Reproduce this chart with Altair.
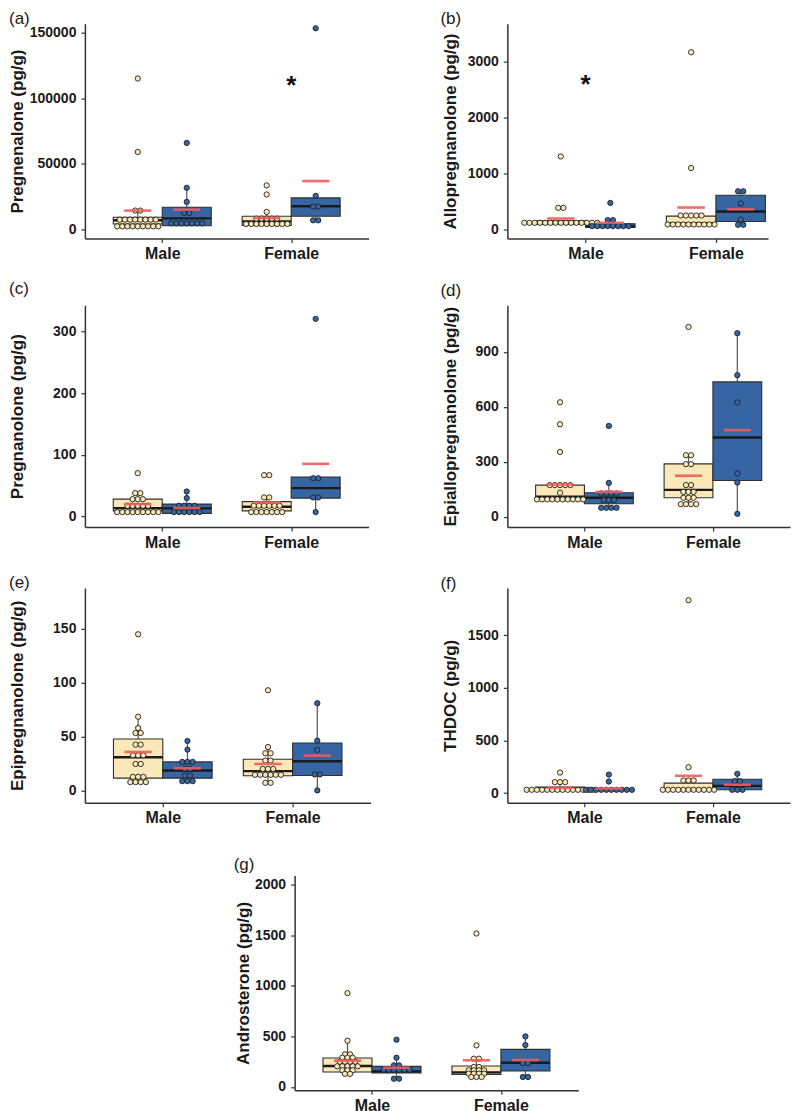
import altair as alt
import pandas as pd

SEXES = ["Male", "Female"]
GROUPS = ["Control", "Treated"]
ORDER = [("Male", "Control"), ("Male", "Treated"), ("Female", "Control"), ("Female", "Treated")]
CREAM = "#FBE8B8"
BLUE = "#3566A3"
MEAN_RED = "#EF5B5B"

# ---------------- (a) Pregnenalone ----------------
a_male_ctrl = [115000, 59000, 14300, 14300] + [7400] * 8 + [2300] * 9
a_male_trt = [65900, 31700, 20950, 12500, 12500] + [4600] * 7
a_fem_ctrl = [33500, 26600, 13300] + [8200] * 5 + [4100] * 9
a_fem_trt = [153300, 25550, 17400, 17400, 6900, 6900]
a_lo = [2300, 2800, 3000, 6900]
a_q1 = [4100, 2800, 3000, 10000]
a_med = [6900, 8400, 6100, 17600]
a_q3 = [9200, 16900, 10000, 24000]
a_hi = [14300, 31700, 13300, 25550]
a_mean = [14300, 15000, 8700, 36800]

# ---------------- (b) Allopregnanolone ----------------
b_male_ctrl = [1305, 390, 390] + [124] * 15
b_male_trt = [478, 171, 171] + [65] * 8
b_fem_ctrl = [3160, 1098] + [254] * 5 + [94] * 10
b_fem_trt = [685, 685, 467, 183, 89, 89]
b_lo = [95, 47, 94, 89]
b_q1 = [95, 47, 106, 148]
b_med = [120, 59, 118, 325]
b_q3 = [160, 106, 242, 614]
b_hi = [160, 171, 254, 685]
b_mean = [200, 124, 396, 366]

# ---------------- (c) Pregnanolone ----------------
c_male_ctrl = [70.3, 37.8, 37.8, 28, 28, 28] + [17.3] * 5 + [7] * 9
c_male_trt = [40.5, 29.7] + [17.3] * 4 + [7] * 6
c_fem_ctrl = [67, 67, 30.8, 30.8] + [17.3] * 6 + [7] * 7
c_fem_trt = [321, 62, 62, 30.8, 30.8, 7]
c_lo = [7, 4.9, 7, 7]
c_q1 = [9, 4.9, 9, 29.7]
c_med = [13.5, 13, 15.7, 46]
c_q3 = [28, 20, 24, 64]
c_hi = [37.8, 40.5, 30.8, 62]
c_mean = [20, 13.5, 22.7, 85.4]

# ---------------- (d) Epiallopregnanolone ----------------
d_male_ctrl = [625, 505, 354] + [173] * 5 + [131] + [95] * 10
d_male_trt = [496, 185] + [127] * 4 + [91] * 3 + [49] * 4
d_fem_ctrl = [1036, 336, 336, 287, 287, 173, 173, 136, 136, 136, 104, 104, 104, 69, 69, 69, 69]
d_fem_trt = [1002, 773, 624, 236, 187, 16]
d_lo = [95, 49, 69, 16]
d_q1 = [95, 71, 104, 198]
d_med = [109, 104, 147, 433]
d_q3 = [173, 131, 289, 736]
d_hi = [173, 185, 336, 1002]
d_mean = [176, 136, 224, 473]

# ---------------- (e) Epipregnanolone ----------------
e_male_ctrl = [145, 68.4, 57.9, 53.3, 53.3, 42.5, 42.5, 32.6, 32.6, 32.6, 24.6, 24.6,
               12.6, 12.6, 12.6, 7.7, 7.7, 7.7, 7.7]
e_male_trt = [45.9, 37.9, 26.5, 26.5, 26.5, 20, 20, 13.9, 13.9, 8.6, 8.6, 8.6]
e_fem_ctrl = [93, 40.3, 34.5, 34.5, 27.7, 27.7, 20, 20, 20] + [14.5] * 6 + [7.1, 7.1]
e_fem_trt = [81, 46.2, 37.6, 14.8, 14.8, 0]
e_lo = [7.7, 8.6, 7.1, 0]
e_q1 = [11.4, 11.4, 13.6, 13.9]
e_med = [30.8, 18.5, 17.9, 27.1]
e_q3 = [47.7, 26.5, 29, 44]
e_hi = [68.4, 45.9, 40.3, 81]
e_mean = [35.7, 20.6, 24.6, 32.3]

# ---------------- (f) THDOC ----------------
f_male_ctrl = [195, 104, 104, 104] + [31.5] * 14
f_male_trt = [176, 110] + [31.5] * 10
f_fem_ctrl = [1831, 246, 120, 120, 120] + [31.5] * 11
f_fem_trt = [183, 113, 113, 31.5, 31.5, 31.5]
f_lo = [25, 25, 25, 31.5]
f_q1 = [25, 25, 25, 31.5]
f_med = [31.5, 31, 31.5, 69]
f_q3 = [57, 41, 95, 132]
f_hi = [104, 41, 120, 183]
f_mean = [50, 44, 164, 79]

# ---------------- (g) Androsterone ----------------
g_male_ctrl = [929, 458, 323, 323, 290, 290, 290, 250, 250, 250, 250,
               205, 205, 205, 205, 205, 165, 165, 165, 130, 130]
g_male_trt = [468, 290, 214, 214] + [171] * 6 + [82, 82]
g_fem_ctrl = [1519, 412, 280, 280, 198, 198, 165, 165, 165, 165, 132, 132, 132, 132, 99, 99, 99]
g_fem_trt = [501, 415, 237, 237, 99, 99]
g_lo = [130, 82, 99, 99]
g_q1 = [148, 138, 125, 158]
g_med = [208, 155, 145, 240]
g_q3 = [287, 204, 208, 372]
g_hi = [458, 290, 280, 501]
g_mean = [260, 191, 264, 267]

FONT = "Liberation Sans"
CX = "(datum.sex == 'Male' ? 1 : 2) + (datum.grp == 'Control' ? -0.19 : 0.19)"


def dots_df(groups):
    rows = []
    for (sex, grp), vals in zip(ORDER, groups):
        for v in vals:
            rows.append({"sex": sex, "grp": grp, "v": v})
    return pd.DataFrame(rows)


def box_df(lo, q1, med, q3, hi, mean):
    return pd.DataFrame({
        "sex": [s for s, g in ORDER], "grp": [g for s, g in ORDER],
        "lo": lo, "q1": q1, "med": med, "q3": q3, "hi": hi, "mean": mean,
    })


def panel(label, ytitle, groups, stats, ydom, yticks, xdom, w, h,
          label_dx, label_off, title_x, star=None):
    xs = alt.Scale(domain=xdom, nice=False, zero=False)
    ys = alt.Scale(domain=ydom, nice=False, zero=False)
    xaxis = alt.Axis(values=[1, 2], labelExpr="datum.value == 1 ? 'Male' : 'Female'",
                     title=None, grid=False, labelFontSize=16, labelPadding=3)
    yaxis = alt.Axis(values=yticks, format="d", title=ytitle, grid=False,
                     titleX=title_x, titleBaseline="middle", titleFontSize=17,
                     labelFontSize=14, labelPadding=5)
    cscale = alt.Scale(domain=GROUPS, range=[CREAM, BLUE])

    def X(f):
        return alt.X(f, type="quantitative", scale=xs, axis=xaxis)

    def Y(f):
        return alt.Y(f, type="quantitative", scale=ys, axis=yaxis)

    bdf = box_df(*stats)
    base = alt.Chart(bdf).transform_calculate(cx=CX).transform_calculate(
        xl="datum.cx - 0.19", xr="datum.cx + 0.19",
        ml="datum.cx - 0.105", mr="datum.cx + 0.105")
    whisk = base.mark_rule(color="#555555", strokeWidth=1.2).encode(
        x=X("cx"), y=Y("lo"), y2="hi")
    box = base.mark_rect(stroke="#2f2f2f", strokeWidth=1.1).encode(
        x=X("xl"), x2="xr", y=Y("q1"), y2="q3",
        color=alt.Color("grp:N", scale=cscale, legend=None))
    med = base.mark_rule(color="#1a1a1a", strokeWidth=2.4).encode(
        x=X("xl"), x2="xr", y=Y("med"))
    dots = alt.Chart(dots_df(groups)).transform_calculate(cx=CX).transform_window(
        idx="row_number()", groupby=["sex", "grp", "v"]
    ).transform_joinaggregate(
        n="count()", groupby=["sex", "grp", "v"]
    ).transform_calculate(
        xd="datum.cx + (datum.idx - 1 - (datum.n - 1) / 2) * 0.04"
    ).mark_circle(size=28, opacity=1, stroke="#1f1f1f", strokeWidth=0.9).encode(
        x=X("xd"), y=Y("v"),
        color=alt.Color("grp:N", scale=cscale, legend=None))
    mean = base.mark_rule(color=MEAN_RED, strokeWidth=2.6, opacity=0.9).encode(
        x=X("ml"), x2="mr", y=Y("mean"))
    layers = [whisk, box, med, dots, mean]
    if star is not None:
        sdf = pd.DataFrame({"sx": [star[0]], "sy": [star[1]], "t": ["*"]})
        layers.append(alt.Chart(sdf).mark_text(fontSize=26, fontWeight="bold",
                                                baseline="alphabetic", dy=12,
                                                color="#111111").encode(
            x=X("sx"), y=Y("sy"), text="t:N"))
    return alt.layer(*layers).properties(
        width=w, height=h,
        title=alt.TitleParams(label, anchor="start", frame="group", dx=label_dx,
                              offset=label_off, baseline="top", fontSize=17,
                              fontWeight="normal", font=FONT, color="#1a1a1a"))


pa = panel("(a)", "Pregnenalone (pg/g)",
           [a_male_ctrl, a_male_trt, a_fem_ctrl, a_fem_trt],
           [a_lo, a_q1, a_med, a_q3, a_hi, a_mean],
           [-6900, 156800], [0, 50000, 100000, 150000], [0.4, 2.6], 284, 215,
           -76, -4, -67, star=(2, 112500))
pb = panel("(b)", "Allopregnanolone (pg/g)",
           [b_male_ctrl, b_male_trt, b_fem_ctrl, b_fem_trt],
           [b_lo, b_q1, b_med, b_q3, b_hi, b_mean],
           [-154, 3668], [0, 1000, 2000, 3000], [0.4, 2.4], 261, 215,
           -67, -4, -57, star=(1, 2650))
pc = panel("(c)", "Pregnanolone (pg/g)",
           [c_male_ctrl, c_male_trt, c_fem_ctrl, c_fem_trt],
           [c_lo, c_q1, c_med, c_q3, c_hi, c_mean],
           [-17.3, 343], [0, 100, 200, 300], [0.4, 2.6], 284, 222,
           -76, 7, -67)
pd_ = panel("(d)", "Epiallopregnanolone (pg/g)",
            [d_male_ctrl, d_male_trt, d_fem_ctrl, d_fem_trt],
            [d_lo, d_q1, d_med, d_q3, d_hi, d_mean],
            [-56, 1154], [0, 300, 600, 900], [0.4, 2.6], 283, 222,
            -67, 5, -57)
pe = panel("(e)", "Epipregnanolone (pg/g)",
           [e_male_ctrl, e_male_trt, e_fem_ctrl, e_fem_trt],
           [e_lo, e_q1, e_med, e_q3, e_hi, e_mean],
           [-11.4, 188], [0, 50, 100, 150], [0.4, 2.6], 286, 215,
           -76, -4, -67)
pf = panel("(f)", "THDOC (pg/g)",
           [f_male_ctrl, f_male_trt, f_fem_ctrl, f_fem_trt],
           [f_lo, f_q1, f_med, f_q3, f_hi, f_mean],
           [-91, 1947], [0, 500, 1000, 1500], [0.4, 2.6], 283, 215,
           -67, -5, -57)
pg = panel("(g)", "Androsterone (pg/g)",
           [g_male_ctrl, g_male_trt, g_fem_ctrl, g_fem_trt],
           [g_lo, g_q1, g_med, g_q3, g_hi, g_mean],
           [-33, 2092], [0, 500, 1000, 1500, 2000], [0.4, 2.6], 284, 215,
           -61, 2, -51)

blank = alt.Chart(pd.DataFrame({"z": [0]})).mark_point(opacity=0).encode(
    x=alt.X("z:Q", axis=None), y=alt.Y("z:Q", axis=None)).properties(width=10, height=10)

r1 = alt.hconcat(pa, pb, spacing=139, bounds="flush")
r2 = alt.hconcat(pc, pd_, spacing=139, bounds="flush")
r3 = alt.hconcat(pe, pf, spacing=137, bounds="flush")
r4 = alt.hconcat(blank, pg, spacing=200, bounds="flush")

top = alt.vconcat(r1, r2, spacing=17)
bottom = alt.vconcat(r3, r4, spacing=28)

chart = alt.vconcat(top, bottom, spacing=22).properties(
    padding=0, background="white"
).configure_view(stroke="transparent").configure_axis(
    labelFont=FONT, titleFont=FONT, labelFontWeight="bold", titleFontWeight="bold",
    labelColor="#1a1a1a", titleColor="#1a1a1a", domainColor="#333333",
    domainWidth=1.5, tickColor="#333333", tickWidth=1.2, tickSize=4,
).configure_text(font=FONT)

chart.save("out.html", embed_options={"renderer": "svg", "actions": False})
